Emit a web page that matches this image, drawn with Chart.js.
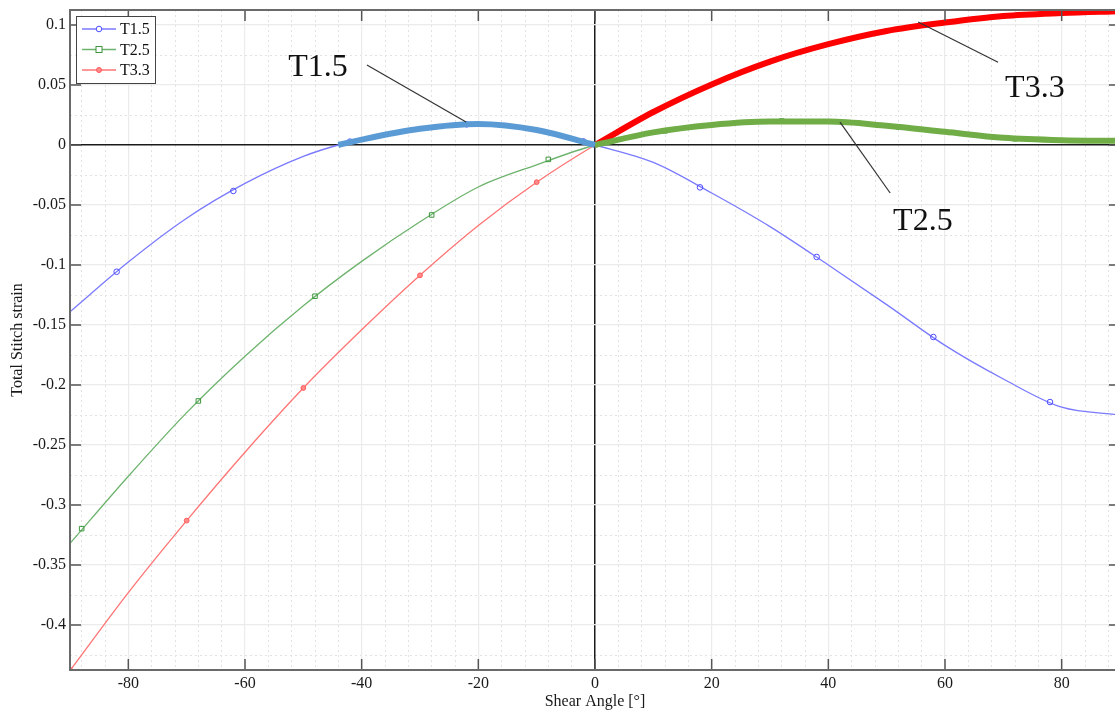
<!DOCTYPE html>
<html>
<head>
<meta charset="utf-8">
<script src="https://cdn.jsdelivr.net/npm/chart.js@4/dist/chart.umd.min.js"></script>
<style>
  html, body { margin: 0; padding: 0; overflow: hidden; background: #fff; }
  canvas { display: block; }
</style>
</head>
<body>
<canvas id="strainChart" width="1125" height="712"></canvas>
<script>
// values
var angleT15  = [-90, -80, -70, -60, -50, -44, -40, -30, -20, -10, 0, 10, 20, 30, 40, 50, 60, 70, 80, 90];
var strainT15 = [-0.139, -0.0975, -0.061, -0.032, -0.0095, 0, 0.0045, 0.0135, 0.0175, 0.0125, 0, -0.0145, -0.040, -0.068, -0.100, -0.133, -0.167, -0.195, -0.2185, -0.225];

var angles    = [-90, -80, -70, -60, -50, -40, -30, -20, -10, 0, 10, 20, 30, 40, 50, 60, 70, 80, 90];
var strainT25 = [-0.332, -0.276, -0.223, -0.176, -0.134, -0.097, -0.064, -0.035, -0.0165, 0, 0.0105, 0.0167, 0.0195, 0.0195, 0.016, 0.011, 0.006, 0.004, 0.0035];
var strainT33 = [-0.438, -0.373, -0.313, -0.256, -0.2025, -0.154, -0.1085, -0.067, -0.031, 0, 0.0275, 0.0505, 0.0695, 0.084, 0.095, 0.102, 0.1075, 0.110, 0.1115];

// marker positions along each curve
var markAngleT15  = [-82, -62, -42, -22, -2, 18, 38, 58, 78];
var markStrainT15 = [-0.1056, -0.0383, 0.0028, 0.0172, 0.003, -0.0353, -0.0933, -0.160, -0.2142];
var markAngleT25  = [-88, -68, -48, -28, -8, 12, 32, 52, 72];
var markStrainT25 = [-0.3197, -0.2133, -0.126, -0.0583, -0.012, 0.0118, 0.020, 0.015, 0.0052];
var markAngleT33  = [-90, -70, -50, -30, -10, 10, 30, 50, 70, 90];
var markStrainT33 = [-0.4375, -0.313, -0.2025, -0.1086, -0.031, 0.0275, 0.0695, 0.095, 0.1075, 0.1115];

// highlighted angle ranges
var highlightT15 = [-44, 0];
var highlightT25 = [0, 90];
var highlightT33 = [0, 90];

var seriesNames = ['T1.5', 'T2.5', 'T3.3'];

var callouts = [
  { text: 'T1.5', at: [-52.6, 0.0575], from: [-39.1, 0.0667], to: [-22.1, 0.0192] },
  { text: 'T3.3', at: [70.3, 0.040],   from: [55.4, 0.1025],  to: [69.1, 0.069] },
  { text: 'T2.5', at: [51.1, -0.0708], from: [42.0, 0.019],   to: [50.6, -0.040] }
];

function pts(xs, ys) {
  return xs.map(function (x, i) { return { x: x, y: ys[i] }; });
}
function within(xs, ys, range) {
  return pts(xs, ys).filter(function (p) { return p.x >= range[0] && p.x <= range[1]; });
}
function stepTicks(step) {
  return function (s) {
    var t = [];
    for (var k = Math.ceil(s.min / step - 1e-9); k * step <= s.max + 1e-9; k++) {
      t.push({ value: +(k * step).toFixed(6) });
    }
    s.ticks = t;
  };
}
function isMultiple(v, step) {
  return Math.abs(Math.round(v / step) * step - v) < 1e-9;
}

var serif = 'Liberation Serif';
var colBlue = '#7a7aff', colGreen = '#6db36d', colRed = '#ff7474';

function thin(label, data, color) {
  return { label: label, data: data, borderColor: color, borderWidth: 1.3, pointRadius: 0,
           cubicInterpolationMode: 'monotone', order: 3 };
}
function marks(data, style, stroke, fill, r) {
  return { data: data, showLine: false, pointStyle: style, pointRadius: r, borderWidth: 1,
           pointBorderColor: stroke, pointBackgroundColor: fill, order: 2 };
}
function thick(data, color) {
  return { data: data, borderColor: color, borderWidth: 6, pointRadius: 0,
           cubicInterpolationMode: 'monotone', order: 1 };
}

var annotate = {
  id: 'annotate',
  afterDatasetsDraw: function (chart) {
    var ctx = chart.ctx, x = chart.scales.x, y = chart.scales.y, a = chart.chartArea;
    ctx.save();
    // inward tick marks on all four sides
    ctx.strokeStyle = '#555';
    ctx.lineWidth = 1.5;
    ctx.beginPath();
    x.ticks.forEach(function (t) {
      var px = x.getPixelForValue(t.value);
      ctx.moveTo(px, a.bottom); ctx.lineTo(px, a.bottom - 11);
      ctx.moveTo(px, a.top); ctx.lineTo(px, a.top + 11);
    });
    y.ticks.forEach(function (t) {
      var py = y.getPixelForValue(t.value);
      ctx.moveTo(a.left, py); ctx.lineTo(a.left + 11, py);
      ctx.moveTo(a.right, py); ctx.lineTo(a.right - 11, py);
    });
    ctx.stroke();
    // frame
    ctx.strokeStyle = '#6a6a6a';
    ctx.lineWidth = 2;
    ctx.strokeRect(a.left, a.top, a.right - a.left, a.bottom - a.top);

    // callout labels with leader lines
    ctx.strokeStyle = '#333';
    ctx.lineWidth = 1.2;
    ctx.fillStyle = '#111';
    ctx.font = '32px "' + serif + '"';
    ctx.textBaseline = 'alphabetic';
    ctx.textAlign = 'left';
    callouts.forEach(function (c) {
      ctx.beginPath();
      ctx.moveTo(x.getPixelForValue(c.from[0]), y.getPixelForValue(c.from[1]));
      ctx.lineTo(x.getPixelForValue(c.to[0]), y.getPixelForValue(c.to[1]));
      ctx.stroke();
      ctx.fillText(c.text, x.getPixelForValue(c.at[0]), y.getPixelForValue(c.at[1]));
    });

    // legend box
    var lx = a.left + 6, ly = a.top + 6, lw = 79, lh = 67;
    ctx.fillStyle = '#fff';
    ctx.fillRect(lx, ly, lw, lh);
    ctx.strokeStyle = '#444';
    ctx.lineWidth = 1;
    ctx.strokeRect(lx + 0.5, ly + 0.5, lw, lh);
    var entries = [
      { c: colBlue, m: 'circle', mc: '#4d4dff' },
      { c: colGreen, m: 'rect', mc: '#3d963d' },
      { c: colRed, m: 'dot', mc: '#ff5a5a' }
    ];
    ctx.font = '16px "' + serif + '"';
    ctx.textBaseline = 'middle';
    entries.forEach(function (e, i) {
      var yy = ly + 13 + i * 20.5;
      ctx.strokeStyle = e.c;
      ctx.lineWidth = 1.3;
      ctx.beginPath(); ctx.moveTo(lx + 6, yy); ctx.lineTo(lx + 40, yy); ctx.stroke();
      ctx.strokeStyle = e.mc;
      ctx.lineWidth = 1;
      ctx.beginPath();
      if (e.m === 'circle') { ctx.arc(lx + 23, yy, 2.8, 0, Math.PI * 2); ctx.fillStyle = '#fff'; ctx.fill(); ctx.stroke(); }
      else if (e.m === 'rect') { ctx.fillStyle = '#fff'; ctx.fillRect(lx + 20, yy - 3, 6, 6); ctx.strokeRect(lx + 20, yy - 3, 6, 6); }
      else { ctx.arc(lx + 23, yy, 2.5, 0, Math.PI * 2); ctx.fillStyle = '#ff8a8a'; ctx.fill(); ctx.stroke(); }
      ctx.fillStyle = '#111';
      ctx.fillText(seriesNames[i], lx + 44, yy + 1);
    });
    ctx.restore();
  }
};

var tickFont = { family: serif, size: 16 };

new Chart(document.getElementById('strainChart'), {
  type: 'line',
  data: {
    datasets: [
      thin(seriesNames[0], pts(angleT15, strainT15), colBlue),
      thin(seriesNames[1], pts(angles, strainT25), colGreen),
      thin(seriesNames[2], pts(angles, strainT33), colRed),
      marks(pts(markAngleT15, markStrainT15), 'circle', '#4d4dff', 'rgba(255,255,255,0)', 2.8),
      marks(pts(markAngleT25, markStrainT25), 'rect', '#3d963d', 'rgba(255,255,255,0)', 3.2),
      marks(pts(markAngleT33, markStrainT33), 'circle', '#ff5a5a', '#ff8a8a', 2.4),
      thick(within(angleT15, strainT15, highlightT15), '#5b9bd5'),
      thick(within(angles, strainT25, highlightT25), '#70ad47'),
      thick(within(angles, strainT33, highlightT33), '#ff0000')
    ]
  },
  options: {
    responsive: false,
    animation: false,
    layout: { padding: { top: 10, right: 5, left: 0, bottom: 0 } },
    plugins: { legend: { display: false }, tooltip: { enabled: false } },
    scales: {
      xMinor: {
        type: 'linear', position: 'bottom', min: -90, max: 90,
        afterBuildTicks: stepTicks(4),
        ticks: { display: false },
        grid: { drawTicks: false, lineWidth: 1,
                color: function (c) { return c.tick && isMultiple(c.tick.value, 20) ? 'rgba(0,0,0,0)' : '#e2e2e2'; } },
        border: { display: false, dash: [2, 3] },
        afterFit: function (s) { s.height = 0; s.paddingLeft = 0; s.paddingRight = 0; }
      },
      yMinor: {
        type: 'linear', position: 'left', min: -0.4375, max: 0.1125,
        afterBuildTicks: stepTicks(0.025),
        ticks: { display: false },
        grid: { drawTicks: false, lineWidth: 1,
                color: function (c) { return c.tick && isMultiple(c.tick.value, 0.05) ? 'rgba(0,0,0,0)' : '#e2e2e2'; } },
        border: { display: false, dash: [2, 3] },
        afterFit: function (s) { s.width = 0; s.paddingTop = 0; s.paddingBottom = 0; }
      },
      x: {
        type: 'linear', position: 'bottom', min: -90, max: 90,
        afterBuildTicks: stepTicks(20),
        ticks: { font: tickFont, color: '#1a1a1a', padding: 4, maxRotation: 0, autoSkip: false },
        grid: { drawTicks: false,
                color: function (c) { return c.tick && c.tick.value === 0 ? '#1a1a1a' : '#ebebeb'; },
                lineWidth: function (c) { return c.tick && c.tick.value === 0 ? 1.5 : 1.2; } },
        border: { display: false },
        title: { display: true, text: 'Shear Angle [°]', font: tickFont, color: '#1a1a1a', padding: { top: 0, bottom: 1 } },
        afterFit: function (s) { s.height = 42; s.paddingLeft = 0; s.paddingRight = 0; }
      },
      y: {
        type: 'linear', position: 'left', min: -0.4375, max: 0.1125,
        afterBuildTicks: stepTicks(0.05),
        ticks: { font: tickFont, color: '#1a1a1a', padding: 4, autoSkip: false,
                 callback: function (v) { return String(parseFloat(v.toFixed(3))); } },
        grid: { drawTicks: false,
                color: function (c) { return c.tick && Math.abs(c.tick.value) < 1e-9 ? '#1a1a1a' : '#ebebeb'; },
                lineWidth: function (c) { return c.tick && Math.abs(c.tick.value) < 1e-9 ? 1.5 : 1.2; } },
        border: { display: false },
        title: { display: true, text: 'Total Stitch strain', font: tickFont, color: '#1a1a1a', padding: { top: 8, bottom: 0 } },
        afterFit: function (s) { s.width = 70; s.paddingTop = 0; s.paddingBottom = 0; }
      }
    }
  },
  plugins: [annotate]
});
</script>
</body>
</html>
